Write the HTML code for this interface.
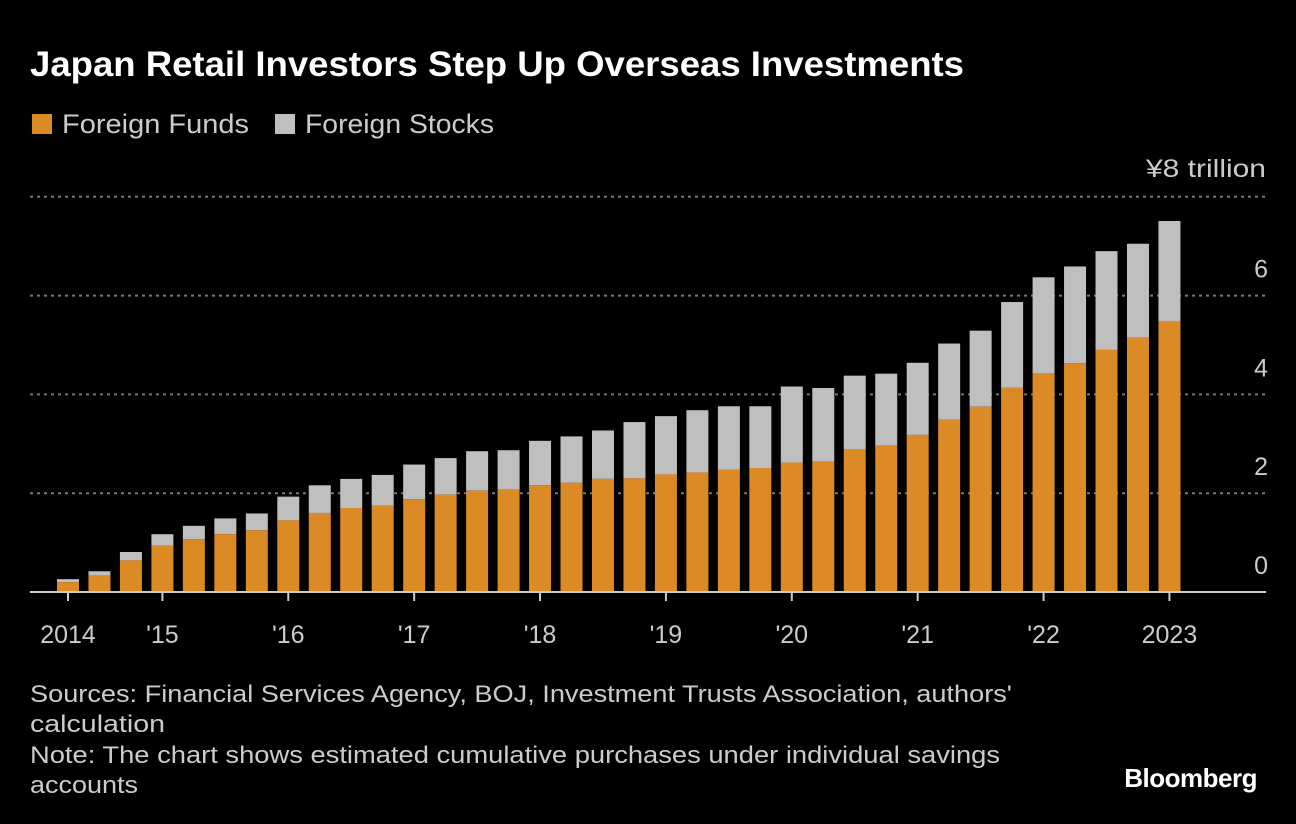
<!DOCTYPE html>
<html><head><meta charset="utf-8"><style>
html,body{margin:0;padding:0;background:#000;}
svg{display:block;font-family:"Liberation Sans",sans-serif;}
</style></head><body>
<svg id="chart" width="1296" height="824" viewBox="0 0 1296 824" xmlns="http://www.w3.org/2000/svg">
<rect width="1296" height="824" fill="#000"/>
<text x="30" y="76" fill="#fff" font-size="35" font-weight="bold" textLength="934" lengthAdjust="spacingAndGlyphs">Japan Retail Investors Step Up Overseas Investments</text>
<g>
<rect x="32" y="114" width="20" height="20" fill="#db8a26"/>
<text x="62" y="133" fill="#ccc" font-size="27" textLength="187" lengthAdjust="spacingAndGlyphs">Foreign Funds</text>
<rect x="275" y="114" width="20" height="20" fill="#bfbfbf"/>
<text x="305" y="133" fill="#ccc" font-size="27" textLength="189" lengthAdjust="spacingAndGlyphs">Foreign Stocks</text>
</g>
<text x="1266" y="177" fill="#ccc" font-size="25" text-anchor="end" textLength="120" lengthAdjust="spacingAndGlyphs">¥8 trillion</text>
<g id="grid"></g>
<g id="bars"></g>
<g id="xaxis"></g>
<g fill="#ccc" font-size="24">
<text x="30" y="702" textLength="982" lengthAdjust="spacingAndGlyphs">Sources: Financial Services Agency, BOJ, Investment Trusts Association, authors'</text>
<text x="30" y="732" textLength="135" lengthAdjust="spacingAndGlyphs">calculation</text>
<text x="30" y="763" textLength="970" lengthAdjust="spacingAndGlyphs">Note: The chart shows estimated cumulative purchases under individual savings</text>
<text x="30" y="793" textLength="108" lengthAdjust="spacingAndGlyphs">accounts</text>
</g>
<text x="1257" y="787" fill="#fff" font-size="26" font-weight="bold" text-anchor="end" letter-spacing="-0.5">Bloomberg</text>
</svg>
<script>
const funds=[0.20,0.33,0.64,0.94,1.07,1.17,1.25,1.45,1.60,1.70,1.75,1.88,1.97,2.05,2.07,2.16,2.21,2.29,2.30,2.38,2.42,2.48,2.51,2.62,2.64,2.88,2.96,3.18,3.49,3.75,4.14,4.42,4.63,4.90,5.15,5.47];
const totals=[0.26,0.42,0.81,1.17,1.34,1.49,1.59,1.93,2.16,2.29,2.37,2.58,2.71,2.85,2.87,3.06,3.15,3.27,3.44,3.56,3.68,3.76,3.76,4.16,4.13,4.38,4.42,4.64,5.03,5.29,5.87,6.37,6.59,6.90,7.05,7.51];
const yTicks=[0,2,4,6];
const xTickIdx=[0,3,7,11,15,19,23,27,31,35];
const xTickLabels=["2014","'15","'16","'17","'18","'19","'20","'21","'22","2023"];
const NS="http://www.w3.org/2000/svg";
const y0=592,pxPerUnit=49.4,x0=68,step=31.47,bw=22;
const ys=v=>y0-v*pxPerUnit;
const xs=i=>x0+i*step;
function mk(tag,attrs,parent){const e=document.createElementNS(NS,tag);for(const k in attrs)e.setAttribute(k,attrs[k]);parent.appendChild(e);return e;}
const grid=document.getElementById('grid');
[...yTicks,8].forEach(v=>{
  if(v>0){const l=mk('line',{x1:30,x2:1266,y1:ys(v),y2:ys(v),stroke:'#777','stroke-width':2,'stroke-dasharray':'3,4'},grid);
  
  }
});
yTicks.forEach(v=>{
  const t=mk('text',{x:1268,y:ys(v)-18,fill:'#ccc','font-size':25,'text-anchor':'end'},grid);
  t.textContent=v;
  
  
});
const bars=document.getElementById('bars');
funds.forEach((f,i)=>{
  const t=totals[i];
  const s=mk('rect',{x:xs(i)-bw/2,y:ys(t),width:bw,height:ys(f)-ys(t),fill:'#bfbfbf'},bars);
  
  
  const o=mk('rect',{x:xs(i)-bw/2,y:ys(f),width:bw,height:y0-ys(f),fill:'#db8a26'},bars);
  
  
});
const xa=document.getElementById('xaxis');
const base=mk('line',{x1:30,x2:1266,y1:y0,y2:y0,stroke:'#ccc','stroke-width':2},xa);


xTickIdx.forEach((idx,k)=>{
  const tk=mk('line',{x1:xs(idx),x2:xs(idx),y1:y0,y2:y0+9,stroke:'#ccc','stroke-width':2},xa);
  
  
  const t=mk('text',{x:xs(idx),y:y0+51,fill:'#ccc','font-size':25,'text-anchor':'middle'},xa);
  t.textContent=xTickLabels[k];
  
  
});
</script>
</body></html>
